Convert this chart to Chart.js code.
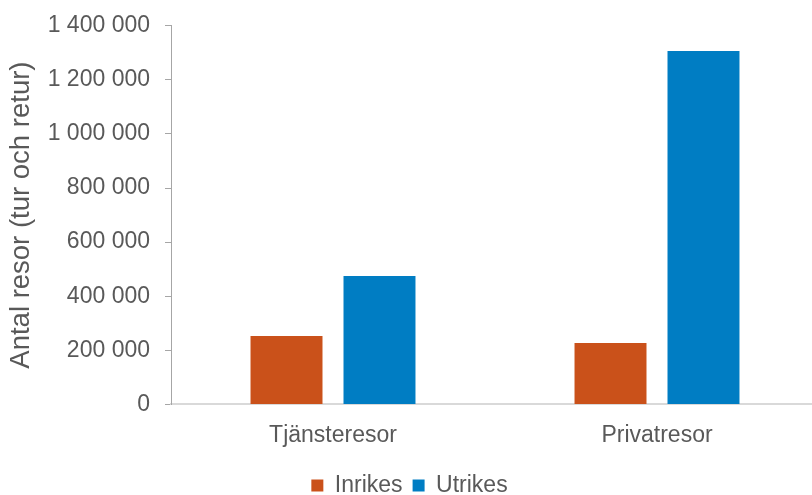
<!DOCTYPE html>
<html>
<head>
<meta charset="utf-8">
<script src="https://cdn.jsdelivr.net/npm/chart.js@4"></script>
<style>
    html, body { margin: 0; padding: 0; background: #fff; }
    #wrap { width: 812px; height: 495px; overflow: hidden; position: relative; }
    #chart { position: absolute; left: 0; top: -3px; }
</style>
</head>
<body>
<div id="wrap"><canvas id="chart" width="820" height="498"></canvas></div>
<script>
const categories = ['Tjänsteresor', 'Privatresor'];
const inrikes = [253000, 227000];
const utrikes = [475000, 1307000];
const yTicks = [0, 200000, 400000, 600000, 800000, 1000000, 1200000, 1400000];

const textColor = '#595959';
const fontFamily = '"Liberation Sans", Arial, sans-serif';

function formatNumber(value) {
    return String(value).replace(/\B(?=(\d{3})+(?!\d))/g, ' ');
}

// nudge the legend a little lower than chart.js puts it
const legendShift = {
    id: 'legendShift',
    afterLayout(chart) {
        if (chart.legend) {
            chart.legend.top += 6;
            chart.legend.bottom += 6;
        }
    }
};

const ctx = document.getElementById('chart').getContext('2d');
new Chart(ctx, {
    type: 'bar',
    data: {
        labels: categories,
        datasets: [
            {
                label: 'Inrikes',
                data: inrikes,
                backgroundColor: '#CA511A',
                categoryPercentage: 0.574,
                barPercentage: 0.774
            },
            {
                label: 'Utrikes',
                data: utrikes,
                backgroundColor: '#007DC3',
                categoryPercentage: 0.574,
                barPercentage: 0.774
            }
        ]
    },
    plugins: [legendShift],
    options: {
        responsive: false,
        animation: false,
        layout: {
            padding: { top: 6, right: 1, bottom: -6, left: 0 }
        },
        scales: {
            x: {
                grid: { display: false },
                border: { display: true, color: '#D9D9D9', width: 2 },
                ticks: {
                    color: textColor,
                    padding: 9,
                    font: { family: fontFamily, size: 23 }
                }
            },
            y: {
                min: 0,
                max: 1400000,
                afterBuildTicks: function(scale) {
                    scale.ticks = yTicks.map(v => ({ value: v }));
                },
                afterFit: function(scale) {
                    scale.width = 171;
                },
                grid: {
                    drawOnChartArea: false,
                    drawTicks: true,
                    tickLength: 6,
                    color: '#A6A6A6'
                },
                border: { display: true, color: '#A6A6A6', width: 1 },
                ticks: {
                    color: textColor,
                    padding: 15,
                    font: { family: fontFamily, size: 23 },
                    callback: function(value) {
                        return formatNumber(value);
                    }
                },
                title: {
                    display: true,
                    text: 'Antal resor (tur och retur)',
                    color: textColor,
                    padding: { top: 5, bottom: 0 },
                    font: { family: fontFamily, size: 27.5 }
                }
            }
        },
        plugins: {
            legend: {
                position: 'bottom',
                labels: {
                    color: textColor,
                    boxWidth: 12,
                    boxHeight: 12,
                    padding: 10,
                    font: { family: fontFamily, size: 23 }
                }
            },
            tooltip: { enabled: false }
        }
    }
});
</script>
</body>
</html>
